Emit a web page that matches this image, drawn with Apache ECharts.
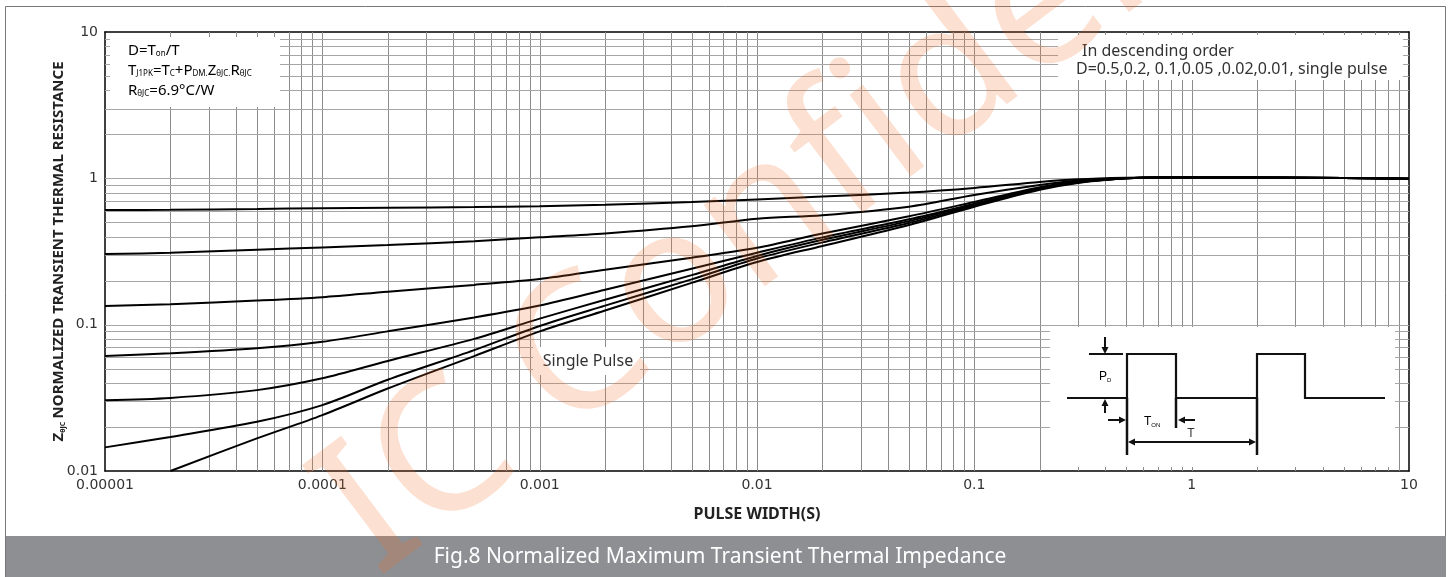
<!DOCTYPE html>
<html>
<head>
<meta charset="utf-8">
<script src="https://cdn.jsdelivr.net/npm/echarts@6/dist/echarts.min.js"></script>
<style>
  html, body { margin: 0; padding: 0; background: #fff; }
  #main { width: 1450px; height: 577px; }
</style>
</head>
<body>
<div id="main"></div>
<script>
// pulse width (s) where the curves were read
var pulseWidth = [1e-5, 2e-5, 5e-5, 1e-4, 2e-4, 5e-4, 1e-3, 2e-3, 5e-3, 1e-2, 2e-2, 5e-2, 0.1, 0.2, 0.3, 0.5, 0.7, 1, 2, 5, 10];

// normalized Zthjc, one array per duty cycle
var zD05 = [0.607, 0.61, 0.617, 0.625, 0.63, 0.636, 0.645, 0.66, 0.69, 0.718, 0.75, 0.80, 0.86, 0.945, 0.985, 1.01, 1.015, 1.015, 1.013, 1.005, 0.995];
var zD02 = [0.304, 0.31, 0.325, 0.337, 0.35, 0.372, 0.395, 0.42, 0.47, 0.53, 0.56, 0.64, 0.77, 0.90, 0.965, 1.005, 1.015, 1.015, 1.013, 1.005, 0.995];
var zD01 = [0.134, 0.138, 0.146, 0.154, 0.168, 0.187, 0.205, 0.237, 0.287, 0.335, 0.42, 0.55, 0.69, 0.87, 0.95, 1.0, 1.015, 1.015, 1.013, 1.005, 0.995];
var zD005 = [0.061, 0.0637, 0.069, 0.0764, 0.09, 0.112, 0.135, 0.173, 0.241, 0.31, 0.395, 0.525, 0.67, 0.86, 0.945, 1.0, 1.015, 1.015, 1.013, 1.005, 0.995];
var zD002 = [0.0305, 0.0316, 0.0357, 0.043, 0.0565, 0.08, 0.11, 0.148, 0.218, 0.295, 0.38, 0.51, 0.66, 0.85, 0.94, 1.0, 1.015, 1.015, 1.013, 1.005, 0.995];
var zD001 = [0.0145, 0.0171, 0.0217, 0.0282, 0.042, 0.067, 0.098, 0.135, 0.204, 0.283, 0.365, 0.495, 0.65, 0.845, 0.935, 1.0, 1.015, 1.015, 1.013, 1.005, 0.995];
var zSingle = [null, 0.01, 0.0167, 0.0241, 0.0366, 0.061, 0.09, 0.125, 0.193, 0.268, 0.345, 0.48, 0.64, 0.835, 0.93, 1.0, 1.015, 1.015, 1.013, 1.005, 0.995];

var seriesNames = ['D=0.5', 'D=0.2', 'D=0.1', 'D=0.05', 'D=0.02', 'D=0.01', 'Single Pulse'];
var seriesValues = [zD05, zD02, zD01, zD005, zD002, zD001, zSingle];

// tick labels
var xTickLabels = ['0.00001', '0.0001', '0.001', '0.01', '0.1', '1', '10'];
var yTickLabels = ['0.01', '0.1', '1', '10'];

var myChart = echarts.init(document.getElementById('main'));

function pairs(ys) {
  var out = [];
  for (var i = 0; i < pulseWidth.length; i++) {
    if (ys[i] != null) out.push([pulseWidth[i], ys[i]]);
  }
  return out;
}

// log grid: 1..9 x 10^n inside the frame
var gridX = [], gridY = [];
for (var e = -5; e < 1; e++) {
  for (var k = 1; k <= 9; k++) {
    if (e === -5 && k === 1) continue;
    gridX.push([+(k * Math.pow(10, e)).toPrecision(3), 1]);
  }
}
for (var e2 = -2; e2 < 1; e2++) {
  for (var k2 = 1; k2 <= 9; k2++) {
    if (e2 === -2 && k2 === 1) continue;
    gridY.push([0.01, +(k2 * Math.pow(10, e2)).toPrecision(3)]);
  }
}

function gridRenderer(vertical, color) {
  return function (params, api) {
    var a, b;
    if (vertical) {
      a = api.coord([api.value(0), 0.01]);
      b = api.coord([api.value(0), 10]);
    } else {
      a = api.coord([1e-5, api.value(1)]);
      b = api.coord([10, api.value(1)]);
    }
    var x1 = vertical ? Math.round(a[0]) + 0.5 : a[0];
    var x2 = vertical ? Math.round(b[0]) + 0.5 : b[0];
    var y1 = vertical ? a[1] : Math.round(a[1]) + 0.5;
    var y2 = vertical ? b[1] : Math.round(b[1]) + 0.5;
    return { type: 'line', shape: { x1: x1, y1: y1, x2: x2, y2: y2 }, style: { stroke: color, lineWidth: 1 } };
  };
}

var series = [
  { type: 'custom', z: 1, silent: true, data: gridX, renderItem: gridRenderer(true, '#8c8c8c') },
  { type: 'custom', z: 1, silent: true, data: gridY, renderItem: gridRenderer(false, '#a6a6a6') }
];
seriesValues.forEach(function (vals, i) {
  series.push({
    name: seriesNames[i],
    type: 'line',
    data: pairs(vals),
    smooth: 0.3,
    showSymbol: false,
    z: 3,
    lineStyle: { color: '#000', width: 2 }
  });
});

// inset pulse sketch helpers
var ink = '#111';
function seg(x1, y1, x2, y2, w) {
  return { type: 'line', z: 30, silent: true, shape: { x1: x1, y1: y1, x2: x2, y2: y2 }, style: { stroke: ink, lineWidth: w || 2 } };
}
function head(tx, ty, dx, dy) {
  var L = 7, W = 3.5, bx = tx - dx * L, by = ty - dy * L;
  return { type: 'polygon', z: 30, silent: true, shape: { points: [[tx, ty], [bx - dy * W, by + dx * W], [bx + dy * W, by - dx * W]] }, style: { fill: ink } };
}

var subStyle = { fontSize: 8, fontFamily: 'Noto Sans', color: '#333', verticalAlign: 'bottom', lineHeight: 20 };
var txtStyle = { fontSize: 15, fontFamily: 'Noto Sans', color: '#333', verticalAlign: 'bottom', lineHeight: 20 };
var insetP = { fontSize: 12, fontFamily: 'Liberation Sans', color: '#333', verticalAlign: 'bottom', lineHeight: 14 };
var insetS = { fontSize: 6, fontFamily: 'Liberation Sans', color: '#333', verticalAlign: 'bottom', lineHeight: 14 };

var graphic = [
  // outer frame + caption bar
  { type: 'rect', z: 1, silent: true, shape: { x: 5.5, y: 6.5, width: 1440, height: 600 }, style: { fill: null, stroke: '#777', lineWidth: 1 } },
  { type: 'rect', z: 1, silent: true, shape: { x: 6, y: 536, width: 1440, height: 41 }, style: { fill: '#8e8f93' } },
  { type: 'text', z: 2, silent: true, x: 720, y: 557, style: { text: 'Fig.8 Normalized Maximum Transient Thermal Impedance', fill: '#fff', font: '21px "Noto Sans"', align: 'center', verticalAlign: 'middle' } },

  // annotation boxes
  { type: 'rect', z: 20, silent: true, shape: { x: 110, y: 37, width: 170, height: 70 }, style: { fill: '#fff' } },
  { type: 'text', z: 21, silent: true, x: 128, y: 38, style: {
      text: '{t|D=T}{s|on}{t|/T}\n{t|T}{s|J1PK}{t|=T}{s|C}{t|+P}{s|DM.}{t|Z}{s|θJC.}{t|R}{s|θJC}\n{t|R}{s|θJC}{t|=6.9°C/W}',
      rich: { t: txtStyle, s: subStyle }, align: 'left', verticalAlign: 'top' } },

  { type: 'rect', z: 20, silent: true, shape: { x: 1058, y: 35, width: 345, height: 45 }, style: { fill: '#fff' } },
  { type: 'text', z: 21, silent: true, x: 1082, y: 51, style: { text: 'In descending order', fill: '#333', font: '16px "Noto Sans"', align: 'left', verticalAlign: 'middle' } },
  { type: 'text', z: 21, silent: true, x: 1076, y: 69, style: { text: 'D=0.5,0.2, 0.1,0.05 ,0.02,0.01, single pulse', fill: '#333', font: '16px "Noto Sans"', align: 'left', verticalAlign: 'middle' } },

  { type: 'rect', z: 20, silent: true, shape: { x: 533, y: 347, width: 107, height: 28 }, style: { fill: '#fff' } },
  { type: 'text', z: 21, silent: true, x: 588, y: 361, style: { text: 'Single Pulse', fill: '#333', font: '16px "Noto Sans"', align: 'center', verticalAlign: 'middle' } },

  // inset pulse diagram
  { type: 'rect', z: 20, silent: true, shape: { x: 1050, y: 327, width: 345, height: 140 }, style: { fill: '#fff' } },
  { type: 'polyline', z: 30, silent: true, shape: { points: [[1067, 398], [1127, 398], [1127, 354], [1176, 354], [1176, 398], [1257, 398], [1257, 354], [1305, 354], [1305, 398], [1385, 398]] }, style: { stroke: ink, lineWidth: 2.2, fill: null } },
  seg(1089, 354, 1123, 354, 2.2),
  seg(1105, 337, 1105, 349, 2), head(1105, 354, 0, 1),
  seg(1105, 413, 1105, 404, 2), head(1105, 399, 0, -1),
  seg(1127, 398, 1127, 455, 2.5),
  seg(1176, 398, 1176, 428, 2.5),
  seg(1257, 398, 1257, 455, 2.5),
  seg(1108, 420, 1120, 420, 2), head(1126, 420, 1, 0),
  seg(1195, 420, 1184, 420, 2), head(1178, 420, -1, 0),
  seg(1134, 442, 1250, 442, 2), head(1128, 442, -1, 0), head(1256, 442, 1, 0),
  { type: 'text', z: 30, silent: true, x: 1099, y: 376, style: { text: '{p|P}{s|D}', rich: { p: insetP, s: insetS }, align: 'left', verticalAlign: 'middle' } },
  { type: 'text', z: 30, silent: true, x: 1144, y: 421, style: { text: '{p|T}{s|ON}', rich: { p: insetP, s: insetS }, align: 'left', verticalAlign: 'middle' } },
  { type: 'text', z: 30, silent: true, x: 1191, y: 434, style: { text: 'T', fill: '#333', font: '12px "Liberation Sans"', align: 'center', verticalAlign: 'middle' } },

  // watermark
  { type: 'text', z: 100, silent: true, x: 345, y: 535, rotation: 37 * Math.PI / 180, style: { text: 'IC Confidential', fill: 'rgba(240,110,40,0.21)', font: '190px "Noto Sans"', align: 'left', verticalAlign: 'middle' } }
];

var labelFont = { fontFamily: 'DejaVu Sans', fontSize: 14, color: '#333' };

var option = {
  animation: false,
  backgroundColor: '#fff',
  grid: { left: 105, right: 41, top: 32, bottom: 106, containLabel: false },
  xAxis: [{
    type: 'log', logBase: 10, min: 1e-5, max: 10, splitNumber: 6,
    position: 'bottom',
    name: 'PULSE WIDTH(S)', nameLocation: 'middle', nameGap: 35, nameMoveOverlap: false,
    nameTextStyle: { fontFamily: 'Noto Sans', fontWeight: 'bold', fontSize: 16, color: '#222' },
    axisLine: { show: true, lineStyle: { color: '#000', width: 1.5 } },
    axisTick: { show: false },
    splitLine: { show: false },
    axisLabel: Object.assign({ margin: 7, formatter: function (v) { return xTickLabels[Math.round(Math.log10(v)) + 5]; } }, labelFont)
  }, {
    type: 'log', logBase: 10, min: 1e-5, max: 10, splitNumber: 6,
    position: 'top',
    axisLine: { show: true, lineStyle: { color: '#000', width: 1.5 } },
    axisTick: { show: false }, axisLabel: { show: false }, splitLine: { show: false }
  }],
  yAxis: [{
    type: 'log', logBase: 10, min: 0.01, max: 10, splitNumber: 3,
    position: 'left',
    name: '{b|Z}{s|θJC} {b|NORMALIZED TRANSIENT THERMAL RESISTANCE}',
    nameLocation: 'middle', nameGap: 39, nameMoveOverlap: false,
    nameTextStyle: {
      rich: {
        b: { fontFamily: 'Noto Sans', fontWeight: 'bold', fontSize: 15, color: '#222', verticalAlign: 'bottom', lineHeight: 17 },
        s: { fontFamily: 'Noto Sans', fontWeight: 'bold', fontSize: 7, color: '#222', verticalAlign: 'bottom', lineHeight: 17 }
      }
    },
    axisLine: { show: true, lineStyle: { color: '#000', width: 1.5 } },
    axisTick: { show: false },
    splitLine: { show: false },
    axisLabel: Object.assign({ margin: 7, formatter: function (v) { return yTickLabels[Math.round(Math.log10(v)) + 2]; } }, labelFont)
  }, {
    type: 'log', logBase: 10, min: 0.01, max: 10, splitNumber: 3,
    position: 'right',
    axisLine: { show: true, lineStyle: { color: '#000', width: 1.5 } },
    axisTick: { show: false }, axisLabel: { show: false }, splitLine: { show: false }
  }],
  graphic: graphic,
  series: series
};

myChart.setOption(option);
</script>
</body>
</html>
